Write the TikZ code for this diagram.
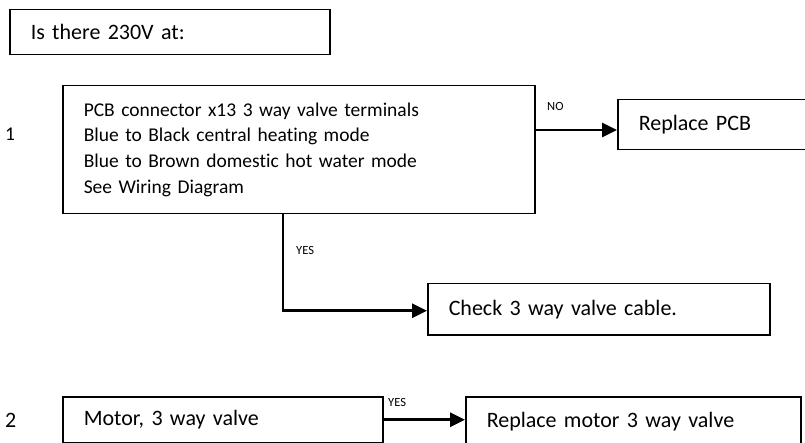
\documentclass[tikz,border=0pt]{standalone}
\usepackage{fontspec}
\setmainfont{Carlito}[Ligatures=NoCommon]
\usetikzlibrary{arrows.meta,positioning}
\tikzset{
  stepbox/.style={draw=black,line width=1.5pt,anchor=north west,align=left,inner xsep=21pt,inner ysep=0pt,font=\fontsize{22}{26}\selectfont},
  testbox/.style={stepbox,font=\fontsize{19.5}{25.7}\selectfont},
  flow/.style={-{Triangle[length=15pt,width=14pt]},line width=2.6pt},
  answer/.style={anchor=base west,inner sep=0pt,font=\fontsize{12.5}{14}\selectfont},
  stepno/.style={anchor=base west,inner sep=0pt},
}
\begin{document}
\begin{tikzpicture}[x=1pt,y=-1pt]
			\useasboundingbox (0,0) rectangle (805,443);
			\clip (0,0) rectangle (805,443);
			\node[stepbox,text width=278pt,minimum height=45pt] (q) at (9,9) {Is there 230V at:};
			\node[stepno,font=\fontsize{19.5}{22}\selectfont] (n1) at (5,141) {1};
			\node[testbox,text width=430pt,minimum height=128pt] (b1) at (62,85) {PCB connector x13 3 way valve terminals\\Blue to Black central heating mode\\Blue to Brown domestic hot water mode\\See Wiring Diagram};
			\node[stepbox,text width=158pt,minimum height=50pt] (pcb) at (617,99) {Replace PCB};
			\node[stepbox,text width=300pt,minimum height=51pt] (chk) at (427,283) {Check 3 way valve cable.};
			\node[stepno,font=\fontsize{22}{26}\selectfont] (n2) at (5,427) {2};
			\node[stepbox,text width=278pt,minimum height=46pt] (mot) at (62,396) {Motor, 3 way valve};
			\node[stepbox,text width=293pt,minimum height=50pt] (rmot) at (465,396) {Replace motor 3 way valve};
			\node[answer] (no) at (547,111) {NO};
			\node[answer] (yes1) at (296,255) {YES};
			\node[answer] (yes2) at (388,406) {YES};
			\draw[flow] ([yshift=-45pt]b1.north east) -- ([yshift=-31pt]pcb.north west);
			\draw[flow] ([xshift=221pt]b1.south west) |- ([yshift=-1.5pt]chk.west);
			\draw[flow] (mot.east) -- (mot.east -| rmot.west);
		\end{tikzpicture}
\end{document}
